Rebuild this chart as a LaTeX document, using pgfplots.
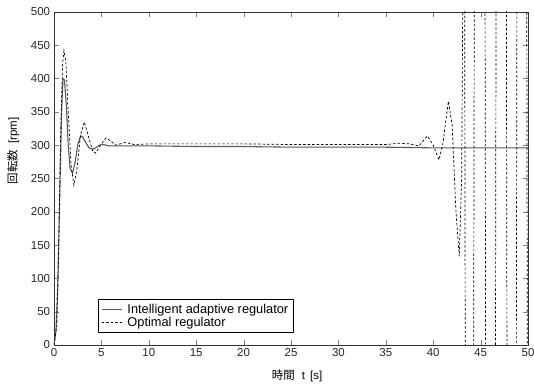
\documentclass[border=0pt]{standalone}
\usepackage{fontspec}
\setmainfont{Liberation Sans}
\newfontfamily\jp{Noto Sans CJK JP}
\usepackage{pgfplots}
\pgfplotsset{compat=1.18}
\begin{document}
\fontsize{11bp}{13bp}\selectfont
\begin{tikzpicture}
\begin{axis}[
  scale only axis,
  width=474bp, height=333bp,
  xmin=0, xmax=50, ymin=0, ymax=500,
  xtick={0,5,...,50}, ytick={0,50,...,500},
  tick align=inside,
  major tick length=5bp,
  axis line style={line width=0.8pt, black!80},
  /pgf/number format/assume math mode=true,
  tick label style={font=\fontsize{11.5bp}{13bp}\selectfont, black!85},
  xlabel={{\jp 時間}\hspace{7bp}t\hspace{5bp}[s]},
  ylabel={{\jp 回転数}\hspace{6bp}[rpm]},
  label style={font=\fontsize{11.5bp}{13bp}\selectfont},
  xlabel style={at={(axis description cs:0.513,-0.094)}, anchor=center},
  ylabel style={at={(axis description cs:-0.086,0.583)}, anchor=center},
  legend style={at={(0.093,0.036)}, anchor=south west, draw=black, line width=0.6pt,
    font=\fontsize{12.8bp}{12.7bp}\selectfont, inner xsep=3bp, inner ysep=2.5bp, row sep=-1.5bp},
  legend cell align=left,
  legend image code/.code={\draw[#1] (2bp,0bp) -- (22bp,0bp);},
]
\addplot[black!65, line width=1.1pt] coordinates {
(0,0) (0.2,20) (0.4,90) (0.6,220) (0.8,350) (0.95,400) (1.1,398) (1.3,360) (1.5,300)
(1.7,265) (1.95,258) (2.2,272) (2.5,300) (2.8,314) (3.0,313) (3.3,305) (3.7,296)
(4.1,294) (4.4,296) (4.8,300) (5.2,301) (5.8,299) (7,299) (10,299) (15,298) (20,298)
(25,297) (30,297) (35,297) (40,296) (45,296) (50,296)
};
\addlegendentry{\hspace{3bp}Intelligent adaptive regulator\hspace{8bp}}
\addplot[black, line width=0.7pt, dash pattern=on 2.5bp off 2bp] coordinates {
(0,0) (0.3,30) (0.5,150) (0.7,320) (0.9,420) (1.05,442) (1.25,425) (1.5,350) (1.8,270)
(2.1,240) (2.4,262) (2.8,315) (3.2,335) (3.6,315) (4.1,290) (4.4,288) (4.9,300)
(5.5,311) (6.0,306) (6.5,300) (7.5,304) (8.5,301) (10,302) (15,302) (20,302) (25,301)
(30,301) (35,301) (36.5,303) (37.5,302) (38.5,299) (39.4,314) (40.0,300) (40.6,278)
(41.0,300) (41.6,366) (42.0,330) (42.4,200) (42.75,133) (43.0,250) (43.2,700)
(43.3,700) (43.4,-200) (44.25,-200) (44.35,700) (45.45,700) (45.55,-200) (46.55,-200)
(46.65,700) (47.7,700) (47.8,-200) (48.75,-200) (48.85,700) (49.85,700) (49.95,-200)
};
\addlegendentry{\hspace{3bp}Optimal regulator}
\end{axis}
\pgfresetboundingbox
\path[use as bounding box] (current axis.south west) ++(-54bp,-40bp) rectangle ++(534bp,385bp);
\end{tikzpicture}
\end{document}
